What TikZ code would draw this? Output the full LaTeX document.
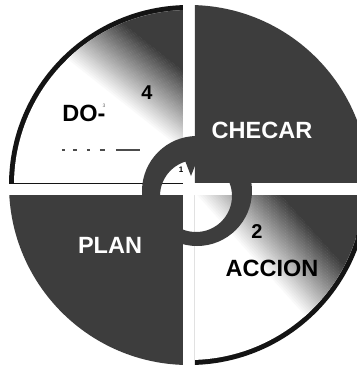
\documentclass[tikz,border=0pt]{standalone}
\usepackage{fontspec}
\setmainfont{Liberation Sans}
\begin{document}
\begin{tikzpicture}[x=1pt,y=-1pt]
\definecolor{dk}{gray}{0.24}
\definecolor{rim}{gray}{0.08}
\tikzset{
  lab/.style={font=\bfseries\fontsize{23.5}{28}\selectfont, inner sep=0pt},
  num/.style={font=\bfseries\fontsize{20}{24}\selectfont, inner sep=0pt},
  tiny/.style={font=\bfseries\fontsize{8}{9}\selectfont, inner sep=0pt}
}
\useasboundingbox (0,0) rectangle (357,368);
\fill[white] (0,0) rectangle (357,368);
\coordinate (C) at (189,185);
% top-left quadrant (white with shading)
\begin{scope}
  \clip (-10,-10) rectangle (183,183);
  \fill[rim] (C) circle (180pt);
  \clip (C) circle (175pt);
  \fill[white] (-10,-10) rectangle (183,183);
  \begin{scope}[shift={(120,103)}, rotate=51.7]
    \foreach \d in {0,2,...,64} {
      \pgfmathsetmacro\p{\d*100/64}
      \fill[dk!\p!white] (\d,-300) rectangle (\d+2.3,300);
    }
    \fill[dk] (65,-300) rectangle (400,300);
  \end{scope}
\end{scope}
% top-right quadrant
\begin{scope}
  \clip (195,-10) rectangle (380,182);
  \fill[dk] (C) circle (180pt);
\end{scope}
% bottom-left quadrant
\begin{scope}
  \clip (-10,195) rectangle (183,380);
  \fill[dk] (C) circle (180pt);
\end{scope}
% bottom-right quadrant (white with shading)
\begin{scope}
  \clip (195,195) rectangle (380,380);
  \fill[rim] (C) circle (180pt);
  \clip (C) circle (175pt);
  \fill[white] (195,195) rectangle (380,380);
  \begin{scope}[shift={(275,255)}, rotate=41.8]
    \foreach \d in {-20,-18,...,44} {
      \pgfmathsetmacro\p{(\d+20)*100/64}
      \fill[dk!\p!white] (\d,-300) rectangle (\d+2.3,300);
    }
    \fill[dk] (45,-300) rectangle (400,300);
  \end{scope}
\end{scope}
% central ring
\fill[dk, even odd rule] (197,191) circle (55pt) (196,196) circle (36pt);
\fill[dk] (184,158) -- (198,158) -- (191,176) -- cycle;
% dashed line under DO-
\coordinate (dl1) at (62,150);
\coordinate (dl2) at (140,150);
\draw[black!70, line width=1.6pt, dash pattern=on 3pt off 8pt on 4pt off 10pt on 3pt off 10pt on 5pt off 11pt on 24pt off 20pt] (dl1) -- (dl2);
% labels
\node[lab] (do) at (84,113) {DO-};
\node[font=\fontsize{5}{6}\selectfont, inner sep=0pt, text=black!60] (three) at (104,106) {3};
\node[num] (four) at (147,93) {4};
\node[lab, text=white] (checar) at (262,130) {CHECAR};
\node[lab, text=white] (plan) at (110,245) {PLAN};
\node[num] (two) at (257,232) {2};
\node[lab] (accion) at (272,268) {ACCION};
\node[tiny] (one) at (181,170) {1};
\end{tikzpicture}
\end{document}
